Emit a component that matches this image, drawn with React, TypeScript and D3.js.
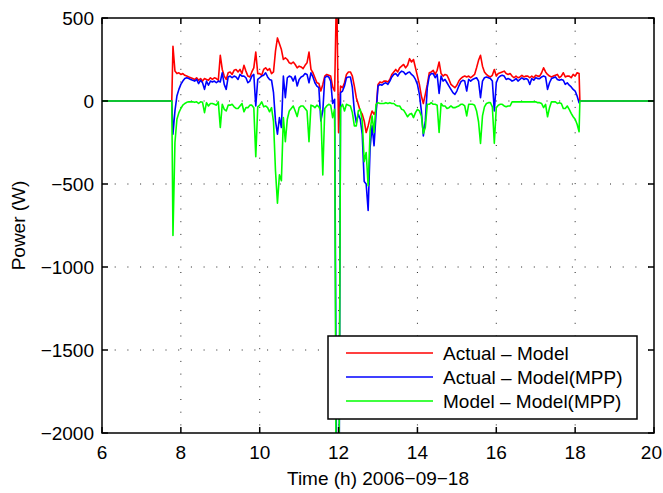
import * as d3 from "d3";

// sampling grid of the logged data (hours)
const START_H = 7.8;
const STEP_H = 0.05;
const LEAD_IN = [6, 7.77];
const LEAD_OUT = [18.12, 20];

// Actual - Model
const RED = [
  330, 180, 165, 170, 160, 165, 155, 150, 145, 140,
  135, 130, 140, 125, 135, 120, 135, 130, 125, 140,
  130, 140, 135, 125, 275, 190, 150, 130, 170, 175,
  160, 185, 190, 175, 190, 165, 215, 180, 150, 145,
  175, 200, 295, 165, 165, 155, 190, 200, 185, 195,
  165, 175, 300, 380, 345, 310, 250, 260, 250, 230,
  225, 235, 220, 200, 210, 205, 195, 215, 230, 295,
  190, 170, 140, 110, 105, 60, 100, 150, 160, 155,
  150, 85, 60, 700, -190, 90, 80, 110, 160, 175,
  175, 150, 90, 20, -20, -60, -80, -120, -190, -150,
  -100, -60, -80, -60, 100, 115, 110, 120, 120, 115,
  130, 160, 175, 190, 175, 200, 210, 220, 200, 215,
  255, 235, 250, 200, 150, 100, 30, -15, 40, 100,
  170, 175, 185, 160, 185, 235, 165, 150, 160, 155,
  130, 100, 90, 80, 95, 120, 135, 145, 150, 145,
  150, 140, 150, 160, 200, 245, 275, 210, 175, 160,
  150, 145, 155, 190, 150, 165, 170, 175, 180, 165,
  160, 165, 150, 140, 150, 140, 145, 155, 145, 150,
  150, 140, 150, 140, 155, 150, 150, 170, 200, 175,
  160, 150, 145, 150, 155, 160, 140, 150, 170, 145,
  150, 150, 140, 160, 150, 170, 165,
];

// Actual - Model(MPP)
const BLUE = [
  -200, -60, 30, 70, 100, 120, 135, 140, 135, 130,
  125, 120, 130, 105, 125, 110, 70, 120, 95, 120,
  115, 120, 110, 120, 115, 170, 100, 70, 145, 150,
  140, 150, 145, 130, 160, 150, 150, 140, 110, 120,
  150, 160, -30, 130, 140, 150, 155, 170, 145, 130,
  125, 50, -120, -200, -100, -160, 150, 20, 140, 150,
  145, 120, 150, 90, 130, 145, 150, 165, 160, 110,
  170, 145, 110, 90, 80, -120, -60, 140, 150, 145,
  120, -15, 10, -2300, -3200, 50, 60, 90, 140, 145,
  145, 80, -60, -130, -80, -110, -200, -485, -500, -660,
  -280, -150, -270, -80, 90, 100, 95, 105, 110, 100,
  120, 145, 160, 165, 150, 170, 180, 175, 160, 170,
  175, 160, 150, 130, 100, 40, -60, -210, -120, 80,
  150, 165, 165, 140, 160, 45, 150, 120, 130, 110,
  90, 70, 50, 40, 60, 90, 115, 125, 120, 60,
  130, 120, 130, 135, 140, 120, 20, 120, 140, 145,
  140, 135, 120, -60, 110, 140, 150, 155, 150, 130,
  135, 130, 120, 125, 135, 120, 130, 140, 130, 135,
  130, 100, 135, 125, 140, 135, 135, 145, 150, 145,
  70, 110, 135, 140, 145, 130, 125, 130, 125, 100,
  110, 95, 85, 70, 60, 30, -10,
];

// Model - Model(MPP)
const GREEN = [
  -810, -250, -110, -70, -45, -25, -15, -8, -5, -5,
  -5, -8, -5, -15, -5, -8, -70, -10, -30, -15,
  -15, -20, -25, -5, -160, -20, -50, -60, -25, -25,
  -20, -35, -45, -45, -30, -15, -65, -40, -40, -25,
  -25, -40, -335, -35, -25, -5, -35, -30, -40, -65,
  -40, -125, -420, -615, -445, -480, -100, -245, -110, -60,
  -45, -30, -60, -94, -40, -30, -30, -45, -60, -245,
  -25, -30, -40, -25, -35, -60, -445, -45, -30, -20,
  -25, -100, -50, -3000, -3000, -40, -20, -60, -20, -25,
  -30, -70, -150, -150, -60, -50, -120, -365, -310, -510,
  -180, -90, -190, -20, -10, -15, -15, -15, -10, -15,
  -10, -15, -15, -25, -30, -30, -50, -55, -75, -95,
  -80, -75, -100, -70, -50, -60, -90, -195, -160, -20,
  -20, -10, -20, -20, -25, -190, -15, -30, -30, -45,
  -40, -30, -40, -40, -35, -30, -20, -20, -30, -90,
  -20, -20, -20, -25, -60, -125, -255, -90, -35, -15,
  -10, -10, -35, -255, -40, -25, -20, -20, -30, -35,
  -30, -30, -5, -5, -5, -5, -5, -5, -5, -5,
  -5, -5, -5, -5, -5, -10, -10, -15, -40, -20,
  -95, -40, -5, -5, -5, -15, -10, -15, -45, -45,
  -30, -50, -75, -95, -110, -140, -185,
];

const X_TICKS = [6, 8, 10, 12, 14, 16, 18, 20];
const Y_TICKS = [-2000, -1500, -1000, -500, 0, 500];
const NAMES = ["Actual – Model", "Actual – Model(MPP)", "Model – Model(MPP)"];
const COLORS = ["#ff0000", "#0000ff", "#00ff00"];

const W = 663;
const H = 493;
const left = 102, right = 654, top = 18, bottom = 433;
const FONT = "'Liberation Sans', Arial, Helvetica, sans-serif";
const FS = 19;

function toPoints(vals: number[]): [number, number][] {
  const pts: [number, number][] = LEAD_IN.map((t) => [t, 0]);
  vals.forEach((v, i) => pts.push([START_H + i * STEP_H, v]));
  LEAD_OUT.forEach((t) => pts.push([t, 0]));
  return pts;
}

export default function App() {
  const x = d3.scaleLinear().domain([6, 20]).range([left, right]);
  const y = d3.scaleLinear().domain([-2000, 500]).range([bottom, top]);
  const line = d3
    .line<[number, number]>()
    .x((d) => x(d[0]))
    .y((d) => y(d[1]));
  const fmt = d3.format("d");
  const series = [RED, BLUE, GREEN];
  const tick = 6;

  return (
    <svg
      width={W}
      height={H}
      style={{ position: "absolute", left: 0, top: 0, background: "#fff" }}
      fontFamily={FONT}
      fontSize={FS}
    >
      <defs>
        <clipPath id="plot">
          <rect x={left} y={top} width={right - left} height={bottom - top} />
        </clipPath>
      </defs>
      <rect x={0} y={0} width={W} height={H} fill="#fff" />
      {/* grid */}
      <g stroke="#222" strokeWidth={1} strokeDasharray="1 11.7">
        {X_TICKS.slice(1, -1).map((t) => (
          <line key={"gx" + t} x1={x(t)} x2={x(t)} y1={top} y2={bottom} />
        ))}
        {Y_TICKS.slice(1, -1).map((t) => (
          <line key={"gy" + t} x1={left} x2={right} y1={y(t)} y2={y(t)} />
        ))}
      </g>
      {/* data */}
      <g clipPath="url(#plot)" fill="none" strokeWidth={1.6} strokeLinejoin="round">
        {series.map((s, i) => (
          <path key={i} d={line(toPoints(s)) || ""} stroke={COLORS[i]} />
        ))}
      </g>
      {/* axes box and ticks */}
      <g stroke="#000" strokeWidth={1.5}>
        <rect x={left} y={top} width={right - left} height={bottom - top} fill="none" />
        {X_TICKS.map((t) => (
          <g key={"tx" + t}>
            <line x1={x(t)} x2={x(t)} y1={bottom} y2={bottom - tick} />
            <line x1={x(t)} x2={x(t)} y1={top} y2={top + tick} />
          </g>
        ))}
        {Y_TICKS.map((t) => (
          <g key={"ty" + t}>
            <line x1={left} x2={left + tick} y1={y(t)} y2={y(t)} />
            <line x1={right} x2={right - tick} y1={y(t)} y2={y(t)} />
          </g>
        ))}
      </g>
      {X_TICKS.map((t, i) => {
        const last = i === X_TICKS.length - 1;
        return (
          <text
            key={"lx" + t}
            x={last ? W - 1 : x(t)}
            y={459}
            textAnchor={last ? "end" : "middle"}
            fill="#000"
          >
            {fmt(t)}
          </text>
        );
      })}
      {Y_TICKS.map((t) => (
        <text key={"ly" + t} x={left - 8} y={y(t)} dy="0.36em" textAnchor="end" fill="#000">
          {fmt(t)}
        </text>
      ))}
      <text x={(left + right) / 2} y={485} textAnchor="middle" fill="#000">
        Time (h) 2006−09−18
      </text>
      <text
        transform={`translate(25,${(top + bottom) / 2}) rotate(-90)`}
        textAnchor="middle"
        fill="#000"
      >
        Power (W)
      </text>
      {/* legend */}
      <g>
        <rect x={328} y={336} width={309} height={83} fill="#fff" stroke="#000" strokeWidth={1.5} />
        {NAMES.map((n, i) => (
          <g key={n}>
            <line
              x1={346}
              x2={433}
              y1={353 + i * 24}
              y2={353 + i * 24}
              stroke={COLORS[i]}
              strokeWidth={1.6}
            />
            <text x={443} y={353 + i * 24} dy="0.35em" fill="#000">
              {n}
            </text>
          </g>
        ))}
      </g>
    </svg>
  );
}
